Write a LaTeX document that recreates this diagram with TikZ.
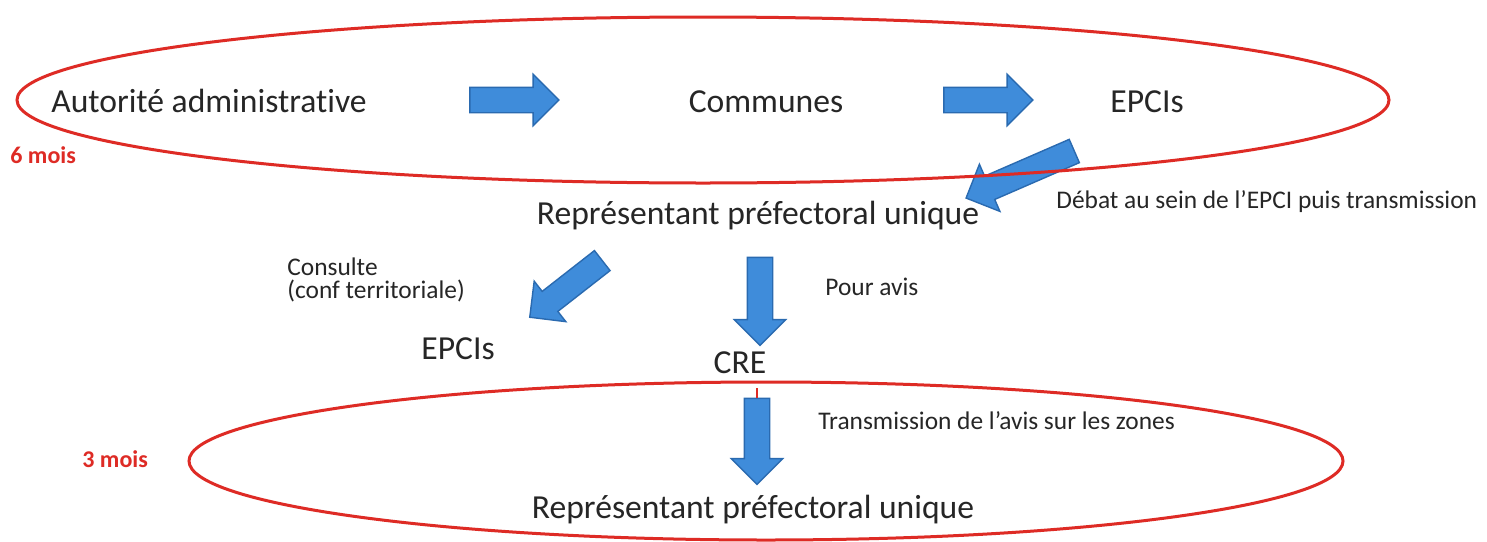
\documentclass[tikz,border=0pt]{standalone}
\usepackage{fontspec}
\setmainfont{Carlito}[Ligatures=NoCommon]
\usetikzlibrary{shapes.arrows}
\definecolor{ovalred}{HTML}{DE2B25}
\definecolor{arrowfill}{HTML}{3F8CDA}
\definecolor{arrowline}{HTML}{2A6AB0}
\definecolor{inktext}{HTML}{262626}
\begin{document}
\begin{tikzpicture}[x=0.5pt,y=-0.5pt,
  big/.style={font=\fontsize{16.8}{20}\selectfont, text=inktext, inner sep=0pt, anchor=base},
  small/.style={font=\fontsize{12.7}{11.5}\selectfont, text=inktext, inner sep=0pt, anchor=base west, align=left},
  delay/.style={font=\bfseries\fontsize{12}{14}\selectfont, text=ovalred, inner sep=0pt, anchor=base west},
  oval/.style={draw=ovalred, line width=1.5pt},
  flow/.style={single arrow, draw=arrowline, fill=arrowfill, line width=0.7pt,
    inner sep=6pt, single arrow head extend=6.5pt, minimum width=0pt,
    single arrow tip angle=90}]
  \fill[white] (0,0) rectangle (1487,541);
  \useasboundingbox (0,0) rectangle (1487,541);

  % block arrows
  \node[flow, minimum height=44.5pt] (a1) at (508,100) {};
  \node[flow, minimum height=44.5pt] (a2) at (982,100) {};
  \node[flow, minimum height=59pt, rotate=203.5] (a3) at (1026,172) {};
  \node[flow, minimum height=46pt, rotate=218] (a4) at (571,285) {};
  \node[flow, minimum height=44pt, rotate=270] (a5) at (760,295) {};
  \node[flow, minimum height=43pt, rotate=270] (a6) at (757,435) {};

  % stages
  \node[big] (auto) at (209,112) {Autorité administrative};
  \node[big] (communes) at (766,112) {Communes};
  \node[big] (epci1) at (1147,112) {EPCIs};
  \node[big] (rep1) at (758,224) {Représentant préfectoral unique};
  \node[big] (epci2) at (458,359) {EPCIs};
  \node[big] (cre) at (740,373) {CRE};
  \node[big] (rep2) at (753,518) {Représentant préfectoral unique};

  % step labels
  \node[small] (debat) at (1056,208) {Débat au sein de l’EPCI puis transmission};
  \node[small, anchor=west] (consulte) at (287,280) {Consulte\\(conf territoriale)};
  \node[small] (pour) at (825,295) {Pour avis};
  \node[small] (transm) at (818,429) {Transmission de l’avis sur les zones};

  % durations
  \node[delay] (six) at (10,163) {6 mois};
  \node[delay] (trois) at (82,467) {3 mois};

  % phase ovals
  \draw[oval] (703,100) ellipse [x radius=686, y radius=83];
  \draw[oval] (766,461) ellipse [x radius=577, y radius=79];
  \draw[ovalred, line width=1pt] (a6.tail) -- ++(0,-10);
\end{tikzpicture}
\end{document}
